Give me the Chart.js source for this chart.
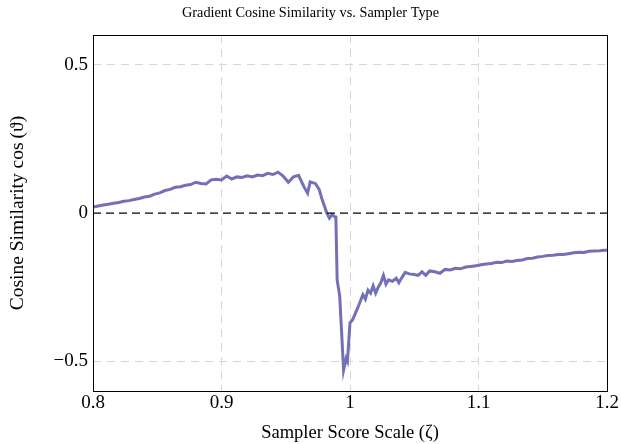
<!DOCTYPE html>
<html>
<head>
<meta charset="utf-8">
<script src="https://cdn.jsdelivr.net/npm/chart.js@4.4.1/dist/chart.umd.min.js"></script>
<style>
html,body{margin:0;padding:0;background:#fff;}
#wrap{width:621px;height:444px;position:relative;}
</style>
</head>
<body>
<div id="wrap"><canvas id="c" width="621" height="444"></canvas></div>
<script>
const scaleValues = [0.800,0.804,0.808,0.812,0.816,0.820,0.824,0.828,0.832,0.836,0.840,0.844,0.848,0.852,0.856,0.860,0.864,0.868,0.872,0.876,0.880,0.884,0.888,0.892,0.896,0.900,0.904,0.908,0.912,0.916,0.920,0.924,0.928,0.932,0.936,0.940,0.944,0.948,0.952,0.956,0.960,0.964,0.967,0.969,0.973,0.976,0.978,0.980,0.982,0.984,0.986,0.988,0.989,0.990,0.992,0.995,0.997,0.998,1.000,1.002,1.006,1.010,1.012,1.014,1.016,1.018,1.020,1.022,1.024,1.026,1.028,1.030,1.033,1.036,1.038,1.040,1.043,1.046,1.050,1.053,1.056,1.059,1.062,1.066,1.070,1.074,1.078,1.082,1.086,1.090,1.094,1.098,1.102,1.106,1.110,1.114,1.118,1.122,1.126,1.130,1.134,1.138,1.142,1.146,1.150,1.154,1.158,1.162,1.166,1.170,1.174,1.178,1.182,1.186,1.190,1.194,1.198,1.200];
const cosineSimilarity = [0.020,0.024,0.027,0.030,0.033,0.036,0.040,0.042,0.046,0.049,0.054,0.057,0.064,0.068,0.076,0.080,0.087,0.089,0.094,0.096,0.104,0.100,0.098,0.112,0.114,0.112,0.125,0.115,0.122,0.120,0.126,0.122,0.128,0.126,0.134,0.130,0.138,0.125,0.104,0.122,0.127,0.090,0.067,0.105,0.100,0.080,0.050,0.025,0.000,-0.017,-0.005,-0.012,-0.013,-0.226,-0.280,-0.530,-0.490,-0.500,-0.370,-0.360,-0.320,-0.275,-0.290,-0.260,-0.270,-0.245,-0.270,-0.250,-0.235,-0.210,-0.240,-0.225,-0.230,-0.220,-0.235,-0.220,-0.200,-0.205,-0.207,-0.210,-0.198,-0.210,-0.195,-0.198,-0.203,-0.190,-0.192,-0.186,-0.188,-0.182,-0.180,-0.178,-0.174,-0.172,-0.170,-0.166,-0.167,-0.162,-0.163,-0.160,-0.158,-0.153,-0.152,-0.148,-0.146,-0.143,-0.142,-0.140,-0.140,-0.137,-0.134,-0.132,-0.133,-0.129,-0.128,-0.127,-0.125,-0.125];
const xTicks = [0.8, 0.9, 1.0, 1.1, 1.2];
const yTicks = [-0.5, 0, 0.5];
const zeroLineX = [0.8, 1.2];
const zeroLineY = [0, 0];

const serif = "'Liberation Serif', 'Times New Roman', serif";

const frame = {
  id: 'frame',
  afterDatasetsDraw(chart) {
    const a = chart.chartArea, ctx = chart.ctx;
    ctx.save();
    ctx.strokeStyle = '#000';
    ctx.lineWidth = 1;
    ctx.strokeRect(Math.round(a.left) + 0.5, Math.round(a.top) + 0.5, Math.round(a.right - a.left), Math.round(a.bottom - a.top));
    ctx.restore();
  }
};

new Chart(document.getElementById('c'), {
  type: 'line',
  data: {
    datasets: [
      {
        label: 'zero',
        data: zeroLineX.map((x, i) => ({x, y: zeroLineY[i]})),
        borderColor: '#000',
        borderWidth: 1.3,
        borderDash: [8, 5],
        pointRadius: 0,
        fill: false
      },
      {
        label: 'Cosine similarity',
        data: scaleValues.map((x, i) => ({x, y: cosineSimilarity[i]})),
        borderColor: '#7470b6',
        borderWidth: 3,
        pointRadius: 0,
        tension: 0,
        fill: false
      }
    ]
  },
  plugins: [frame],
  options: {
    responsive: false,
    animation: false,
    devicePixelRatio: 1,
    layout: { padding: { left: 14, right: 14, top: 0, bottom: 0 } },
    plugins: {
      legend: { display: false },
      tooltip: { enabled: false },
      title: {
        display: true,
        text: 'Gradient Cosine Similarity vs. Sampler Type',
        color: '#000',
        font: { family: serif, size: 14.3, weight: 'normal' },
        padding: { top: 5, bottom: 13 }
      }
    },
    scales: {
      x: {
        type: 'linear',
        min: 0.8, max: 1.2,
        afterBuildTicks: s => { s.ticks = xTicks.map(v => ({value: v})); },
        afterFit: s => { s.height = 53; },
        ticks: {
          color: '#000',
          font: { family: serif, size: 19 },
          padding: 1,
          maxRotation: 0,
          callback: v => String(Math.round(v * 10) / 10)
        },
        grid: {
          color: ctx => (ctx.tick && (ctx.tick.value === 0.8 || Math.abs(ctx.tick.value - 1.2) < 1e-9)) ? 'rgba(0,0,0,0)' : '#d6d6d6',
          drawTicks: false,
          lineWidth: 1
        },
        border: { display: false, dash: [8, 6] },
        title: {
          display: true,
          text: 'Sampler Score Scale (ζ)',
          color: '#000',
          font: { family: serif, size: 18.5 },
          padding: { top: 4, bottom: 0 }
        }
      },
      y: {
        type: 'linear',
        min: -0.6, max: 0.6,
        afterBuildTicks: s => { s.ticks = yTicks.map(v => ({value: v})); },
        afterFit: s => { s.width = 79; },
        ticks: {
          color: '#000',
          font: { family: serif, size: 19 },
          padding: 5,
          callback: v => v < 0 ? '\u2212' + String(Math.abs(v)) : String(v)
        },
        grid: {
          color: ctx => (ctx.tick && ctx.tick.value === 0) ? 'rgba(0,0,0,0)' : '#d6d6d6',
          drawTicks: false,
          lineWidth: 1
        },
        border: { display: false, dash: [8, 6] },
        title: {
          display: true,
          text: 'Cosine Similarity cos\u2009(ϑ)',
          color: '#000',
          font: { family: serif, size: 19.5 },
          padding: { top: -8, bottom: 0 }
        }
      }
    }
  }
});
</script>
</body>
</html>
